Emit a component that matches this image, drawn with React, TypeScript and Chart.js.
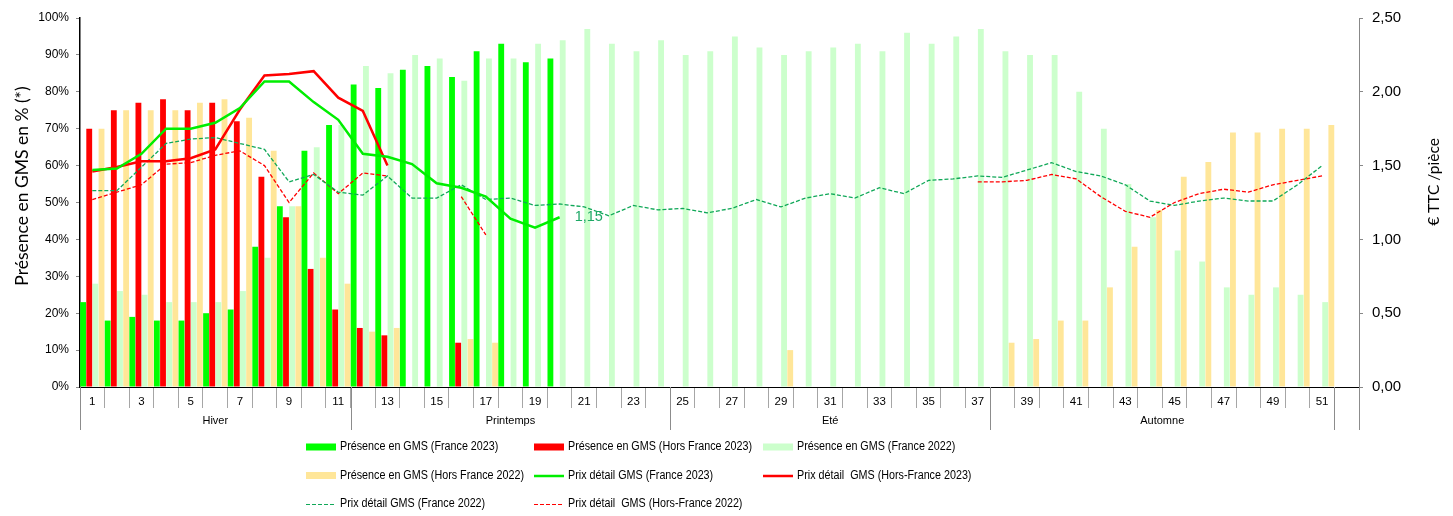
import React, { useEffect, useRef } from 'react';
import { Chart, registerables } from 'chart.js';

Chart.register(...registerables);

// ---------- data ----------
const weeks = ['1','2','3','4','5','6','7','8','9','10','11','12','13','14','15','16','17','18','19','20','21','22','23','24','25','26','27','28','29','30','31','32','33','34','35','36','37','38','39','40','41','42','43','44','45','46','47','48','49','50','51','52'];

const seasonLabels = ['Hiver', 'Printemps', 'Eté', 'Automne'];
const seasonFirstWeek = [1, 12, 25, 38];
const seasonLastWeek = [11, 24, 37, 51];

const presFr2023 = [23,18,19,18,18,20,21,38,49,64,71,82,81,86,87,84,91,93,88,89,
  null,null,null,null,null,null,null,null,null,null,null,null,null,null,null,null,null,null,null,null,null,null,null,null,null,null,null,null,null,null,null,null];
const presHF2023 = [70,75,77,78,75,77,72,57,46,32,21,16,14,null,null,12,
  null,null,null,null,null,null,null,null,null,null,null,null,null,null,null,null,null,null,null,null,null,null,null,null,null,null,null,null,null,null,null,null,null,null,null,null];
const presFr2022 = [28,26,25,23,23,23,26,35,49,65,71,87,85,90,89,83,89,89,93,94,97,93,91,94,90,91,95,92,90,91,92,93,91,96,93,95,97,91,90,90,80,70,55,46,37,34,27,25,27,25,23,null];
const presHF2022 = [70,75,75,75,77,78,73,64,49,35,28,15,16,null,null,13,12,null,null,null,
  null,null,null,null,null,null,null,null,10,null,null,null,null,null,null,null,null,
  12,13,18,18,27,38,48,57,61,69,69,70,70,71,null];

const prixFr2023 = [1.47,1.48,1.58,1.75,1.75,1.79,1.89,2.07,2.07,1.93,1.81,1.58,1.56,1.51,1.38,1.35,1.29,1.14,1.08,1.15,
  null,null,null,null,null,null,null,null,null,null,null,null,null,null,null,null,null,null,null,null,null,null,null,null,null,null,null,null,null,null,null,null];
const prixHF2023 = [1.46,1.49,1.53,1.53,1.55,1.61,1.88,2.11,2.12,2.14,1.96,1.87,1.50,
  null,null,null,null,null,null,null,null,null,null,null,null,null,null,null,null,null,null,null,null,null,null,null,null,null,null,null,null,null,null,null,null,null,null,null,null,null,null,null];
const prixFr2022 = [1.33,1.33,1.49,1.65,1.68,1.69,1.65,1.61,1.39,1.44,1.32,1.30,1.43,1.28,1.28,1.37,1.27,1.28,1.23,1.24,
  1.22,1.16,1.23,1.20,1.21,1.18,1.21,1.27,1.22,1.28,1.31,1.28,1.35,1.31,1.40,1.41,1.43,1.42,1.47,1.52,
  1.46,1.43,1.37,1.26,1.23,1.26,1.28,1.26,1.26,1.37,1.50,null];
const prixHF2022 = [1.27,1.32,1.37,1.51,1.52,1.57,1.60,1.50,1.25,1.45,1.31,1.45,1.43,null,null,1.29,1.03,
  null,null,null,null,null,null,null,null,null,null,null,null,null,null,null,null,null,null,null,
  1.39,1.39,1.40,1.44,1.41,1.29,1.19,1.15,1.25,1.31,1.34,1.32,1.37,1.40,1.43,null];

const seriesLabels = [
  'Présence en GMS (France 2023)',
  'Présence en GMS (Hors France 2023)',
  'Présence en GMS (France 2022)',
  'Présence en GMS (Hors France 2022)',
  'Prix détail GMS (France 2023)',
  'Prix détail  GMS (Hors-France 2023)',
  'Prix détail GMS (France 2022)',
  'Prix détail  GMS (Hors-France 2022)',
];

const leftTitle = 'Présence en GMS en % (*)';
const rightTitle = '€ TTC /pièce';

const FONT = '"Liberation Sans", Arial, sans-serif';

const customPlugin = {
  id: 'customDecor',
  afterDraw(chart: any) {
    const { ctx, chartArea, scales } = chart;
    const x = scales.x;
    const half = (x.getPixelForValue(1) - x.getPixelForValue(0)) / 2;
    const bottom = chartArea.bottom;
    ctx.save();

    // season separators
    ctx.strokeStyle = '#8c8c8c';
    ctx.lineWidth = 1;
    const seps: number[] = [];
    seasonFirstWeek.forEach((w) => seps.push(x.getPixelForValue(w - 1) - half));
    seasonLastWeek.forEach((w) => seps.push(x.getPixelForValue(w - 1) + half));
    seps.push(chartArea.right);
    seps.forEach((px) => {
      const p = Math.round(px) + 0.5;
      ctx.beginPath();
      ctx.moveTo(p, bottom);
      ctx.lineTo(p, bottom + 43);
      ctx.stroke();
    });

    // season labels
    ctx.fillStyle = '#000';
    ctx.font = `11px ${FONT}`;
    ctx.textAlign = 'center';
    ctx.textBaseline = 'middle';
    seasonLabels.forEach((s, i) => {
      const a = x.getPixelForValue(seasonFirstWeek[i] - 1) - half;
      const b = x.getPixelForValue(seasonLastWeek[i] - 1) + half;
      ctx.fillText(s, (a + b) / 2, bottom + 34);
    });

    // axis titles
    ctx.font = `17.5px Lato, "Open Sans", sans-serif`;
    ctx.fillStyle = '#000';
    ctx.save();
    ctx.translate(22, 186);
    ctx.rotate(-Math.PI / 2);
    ctx.fillText(leftTitle, 0, 0);
    ctx.restore();
    ctx.font = `15.5px Lato, "Open Sans", sans-serif`;
    ctx.save();
    ctx.translate(1434, 182);
    ctx.rotate(-Math.PI / 2);
    ctx.fillText(rightTitle, 0, 0);
    ctx.restore();

    // data label on last point of France 2023 price
    const dsIndex = 4;
    const data = chart.data.datasets[dsIndex].data as (number | null)[];
    let last = -1;
    data.forEach((v, i) => { if (v !== null) last = i; });
    if (last >= 0) {
      const pt = chart.getDatasetMeta(dsIndex).data[last];
      ctx.font = `14.5px ${FONT}`;
      ctx.fillStyle = '#1ea866';
      ctx.textAlign = 'left';
      ctx.textBaseline = 'middle';
      ctx.fillText(String(data[last]).replace('.', ','), pt.x + 15, pt.y);
    }

    // legend
    const colX = [306, 534, 763];
    const rowY = [447, 475.5, 504];
    chart.data.datasets.forEach((ds: any, i: number) => {
      const cx = colX[i % 3];
      const cy = rowY[Math.floor(i / 3)];
      if (ds.type === 'bar') {
        ctx.fillStyle = ds.backgroundColor;
        ctx.fillRect(cx, cy - 3.5, 30, 7);
      } else {
        ctx.strokeStyle = ds.borderColor;
        ctx.lineWidth = ds.borderDash ? 1.2 : 2.5;
        ctx.setLineDash(ds.borderDash || []);
        ctx.beginPath();
        ctx.moveTo(cx, cy + 0.5);
        ctx.lineTo(cx + 30, cy + 0.5);
        ctx.stroke();
        ctx.setLineDash([]);
      }
      ctx.save();
      ctx.translate(cx + 34, cy);
      ctx.scale(0.86, 1);
      ctx.font = `12.5px ${FONT}`;
      ctx.fillStyle = '#000';
      ctx.textAlign = 'left';
      ctx.textBaseline = 'middle';
      ctx.fillText(ds.label, 0, 0);
      ctx.restore();
    });

    ctx.restore();
  },
};

export default function App() {
  const ref = useRef<HTMLCanvasElement>(null);

  useEffect(() => {
    document.body.style.margin = '0';
    const canvas = ref.current;
    if (!canvas) return;
    Chart.defaults.font.family = FONT;
    const barCommon = { type: 'bar' as const, yAxisID: 'y', order: 2, borderWidth: 0 };
    const lineCommon = { type: 'line' as const, yAxisID: 'y1', order: 1, pointRadius: 0, tension: 0, fill: false, spanGaps: false };
    const chart = new Chart(canvas, {
      type: 'bar',
      data: {
        labels: weeks,
        datasets: [
          { ...barCommon, label: seriesLabels[0], data: presFr2023, backgroundColor: '#00ff00' },
          { ...barCommon, label: seriesLabels[1], data: presHF2023, backgroundColor: '#ff0000' },
          { ...barCommon, label: seriesLabels[2], data: presFr2022, backgroundColor: '#ccffcc' },
          { ...barCommon, label: seriesLabels[3], data: presHF2022, backgroundColor: '#ffe699' },
          { ...lineCommon, label: seriesLabels[4], data: prixFr2023, borderColor: '#00ee00', backgroundColor: '#00ee00', borderWidth: 2.5 },
          { ...lineCommon, label: seriesLabels[5], data: prixHF2023, borderColor: '#ff0000', backgroundColor: '#ff0000', borderWidth: 2.5 },
          { ...lineCommon, label: seriesLabels[6], data: prixFr2022, borderColor: '#10a858', backgroundColor: '#10a858', borderWidth: 1.3, borderDash: [4, 2] },
          { ...lineCommon, label: seriesLabels[7], data: prixHF2022, borderColor: '#ff0000', backgroundColor: '#ff0000', borderWidth: 1.3, borderDash: [4, 2] },
        ] as any,
      },
      options: {
        responsive: false,
        animation: false,
        events: [],
        layout: { padding: { top: 13.5, left: 0, right: 0, bottom: 0 } },
        plugins: { legend: { display: false }, tooltip: { enabled: false } },
        datasets: { bar: { categoryPercentage: 1, barPercentage: 0.95 } },
        scales: {
          x: {
            type: 'category',
            offset: true,
            grid: { display: true, drawOnChartArea: false, drawTicks: true, tickLength: 21, color: '#a6a6a6', offset: true },
            border: { display: true, color: '#000', width: 1 },
            ticks: {
              autoSkip: false, maxRotation: 0, minRotation: 0, padding: -13,
              font: { size: 11.5 }, color: '#000',
              callback: (_v: any, i: number) => (i % 2 === 0 ? weeks[i] : ''),
            },
            afterFit: (s: any) => { s.height = 129; },
          },
          y: {
            position: 'left', min: 0, max: 100,
            ticks: { stepSize: 10, padding: 7, font: { size: 12 }, color: '#000', callback: (v: any) => v + '%' },
            grid: { drawOnChartArea: false, tickLength: 4, color: '#888' },
            border: { display: true, color: '#000', width: 1.5 },
            afterFit: (s: any) => { s.width = 80; },
          },
          y1: {
            position: 'right', min: 0, max: 2.5,
            ticks: { stepSize: 0.5, padding: 9, font: { size: 15 }, color: '#000', callback: (v: any) => Number(v).toFixed(2).replace('.', ',') },
            grid: { drawOnChartArea: false, tickLength: 4, color: '#888' },
            border: { display: true, color: '#888', width: 1 },
            afterFit: (s: any) => { s.width = 94; },
          },
        },
      } as any,
      plugins: [customPlugin],
    });
    return () => chart.destroy();
  }, []);

  return <canvas ref={ref} width={1453} height={516} style={{ display: 'block' }} />;
}
